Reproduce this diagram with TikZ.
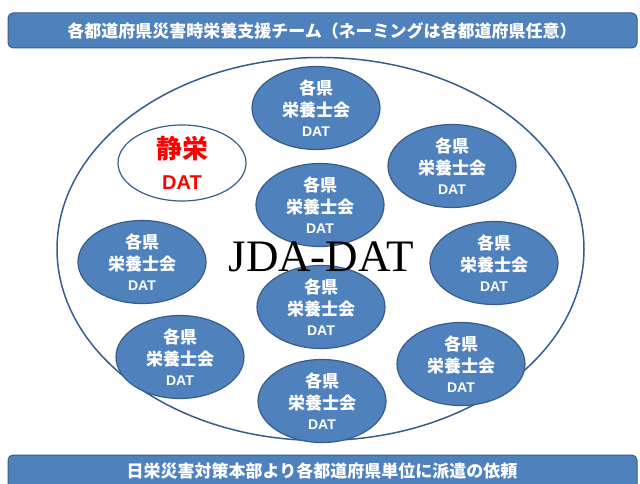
\documentclass[tikz,border=0pt]{standalone}
\usepackage{fontspec}
\setmainfont{Liberation Serif}
\newfontfamily\cjk{Noto Sans CJK JP}
\newfontfamily\lat{Liberation Sans}
\usetikzlibrary{shapes.geometric}
\definecolor{bfill}{HTML}{4F81BD}
\definecolor{bdraw}{HTML}{385D8A}
\definecolor{redtxt}{HTML}{FF0000}
\tikzset{
  team/.style={ellipse, fill=bfill, draw=bdraw, line width=1.2pt,
    minimum width=128pt, minimum height=83pt, inner sep=0pt,
    text=white, align=center, font=\cjk\bfseries\fontsize{17}{22}\selectfont},
  bar/.style={fill=bfill, draw=bdraw, line width=1pt, rounded corners=5pt},
  bartext/.style={text=white, font=\cjk\bfseries\fontsize{17}{20}\selectfont, inner sep=0pt}
}
\newcommand{\teamtext}{各県\\栄養士会\\[-2pt]{\lat\bfseries\fontsize{14}{14}\selectfont DAT}}
\begin{document}
\begin{tikzpicture}[x=1pt,y=-1pt]
\useasboundingbox[fill=white] (0,0) rectangle (640,484);
% top bar
\draw[bar] (8,13) rectangle (637,48);
\node[bartext] (toptext) at (322,30.5) {各都道府県災害時栄養支援チーム（ネーミングは各都道府県任意）};
% big ellipse
\node[ellipse, draw=bdraw, line width=1.5pt, minimum width=527pt, minimum height=383pt, inner sep=0pt] (big) at (320.5,249) {};
% white team
\node[ellipse, fill=white, draw=bdraw, line width=1.2pt, minimum width=128pt, minimum height=76pt, inner sep=0pt, align=center, text=redtxt, font=\fontsize{26}{31}\selectfont] (shizu) at (182,163)
  {{\cjk\bfseries 静栄}\\{\lat\bfseries\fontsize{20}{22}\selectfont DAT}};
% teams
\node[team] (t1) at (316,108) {\teamtext};
\node[team] (t2) at (452,166) {\teamtext};
\node[team] (t3) at (320,205) {\teamtext};
\node[team] (t4) at (142,262) {\teamtext};
\node[team] (t5) at (494,263) {\teamtext};
\node[team] (t6) at (321,307) {\teamtext};
\node[team] (t7) at (180,357) {\teamtext};
\node[team] (t8) at (461,364) {\teamtext};
\node[team] (t9) at (322,401) {\teamtext};
% center title
\node[inner sep=0pt, font=\fontsize{45}{45}\selectfont] (jda) at (321,257) {JDA-DAT};
% bottom bar
\draw[bar] (8,455) rectangle (637,500);
\node[bartext] (bottext) at (322,471) {日栄災害対策本部より各都道府県単位に派遣の依頼};
\end{tikzpicture}
\end{document}
